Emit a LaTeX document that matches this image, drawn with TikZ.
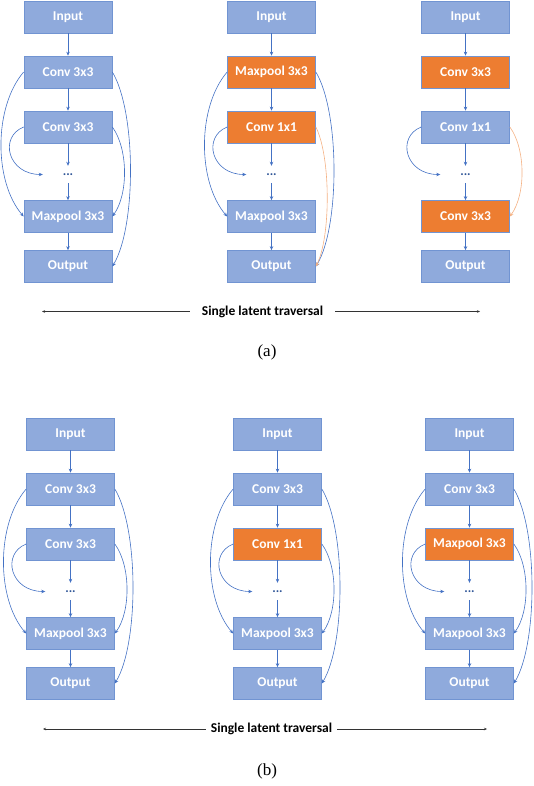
\documentclass[tikz,border=0pt]{standalone}
\usepackage{fontspec}
\setmainfont{Liberation Serif}
\newfontfamily\boxfont{Carlito}
\usetikzlibrary{arrows.meta}
\definecolor{layerblue}{HTML}{8FAADC}
\definecolor{layerorange}{HTML}{ED7D31}
\definecolor{flowblue}{HTML}{4472C4}
\definecolor{skiporange}{HTML}{F4B183}
\definecolor{dotblue}{HTML}{2F5597}

\begin{document}
\begin{tikzpicture}[x=1pt,y=-1pt,>={Stealth[length=4pt,width=3.5pt]}]
    \tikzstyle{layer}=[draw=layerblue!60!flowblue,fill=layerblue,line width=0.7pt,minimum width=88pt,minimum height=32pt,inner sep=0pt,text=white,font=\boxfont\bfseries\fontsize{13.5}{15}\selectfont]
    \tikzstyle{gap}=[minimum width=50pt,minimum height=17pt,inner sep=0pt,text=dotblue,font=\boxfont\bfseries\fontsize{13}{15}\selectfont]
    \tikzstyle{flow}=[->,draw=flowblue,line width=0.6pt]
    \tikzstyle{hot flow}=[flow,draw=skiporange]
    \tikzstyle{sweep}=[->,draw=black!80,line width=0.6pt,>={Stealth[length=3pt,width=2.5pt]}]
    \tikzstyle{sweep label}=[font=\boxfont\bfseries\fontsize{13.5}{15}\selectfont]
    \tikzstyle{caption}=[font=\fontsize{17}{20}\selectfont]

    \useasboundingbox (0,0) rectangle (534,786);

    % Draw the layer nodes of every column (label/fill of the three middle layers)
    \foreach \col/\x/\y/\ta/\fa/\tb/\fb/\tc/\fc in {
            A1/68/0/Conv 3x3/layerblue/Conv 3x3/layerblue/Maxpool 3x3/layerblue,
            A2/271.5/0/Maxpool 3x3/layerorange/Conv 1x1/layerorange/Maxpool 3x3/layerblue,
            A3/465.5/0/Conv 3x3/layerorange/Conv 1x1/layerblue/Conv 3x3/layerorange,
            B1/70.5/417/Conv 3x3/layerblue/Conv 3x3/layerblue/Maxpool 3x3/layerblue,
            B2/277.5/417/Conv 3x3/layerblue/Conv 1x1/layerorange/Maxpool 3x3/layerblue,
            B3/469.5/417/Conv 3x3/layerblue/Maxpool 3x3/layerorange/Maxpool 3x3/layerblue} {
        \node[layer] (\col-in) at (\x,{\y+17}) {Input};
        \node[layer,fill=\fa] (\col-c1) at (\x,{\y+72}) {\ta};
        \node[layer,fill=\fb] (\col-c2) at (\x,{\y+127}) {\tb};
        \node[gap] (\col-dots) at (\x,{\y+174.5}) {...};
        \node[layer,fill=\fc] (\col-mp) at (\x,{\y+216.5}) {\tc};
        \node[layer] (\col-out) at (\x,{\y+266.5}) {Output};
    }

    % Straight connections down every column
    \foreach \col in {A1,A2,A3,B1,B2,B3} {
        \draw[flow] (\col-in) -- (\col-c1);
        \draw[flow] (\col-c1) -- (\col-c2);
        \draw[flow] (\col-c2) -- (\col-dots);
        \draw[flow] (\col-dots) -- (\col-mp);
        \draw[flow] (\col-mp) -- (\col-out);
        \draw[flow] (\col-c2.west) .. controls +(-25,10) and +(-35,0) .. (\col-dots.west);
    }

    % Skip connections
    \foreach \col in {A1,A2,B1,B2,B3} {
        \draw[flow] (\col-c1.west) .. controls +(-30,35) and +(-30,-35) .. (\col-mp.west);
        \draw[flow] (\col-c1.east) .. controls +(24,40) and +(24,-40) .. (\col-out.east);
    }
    \foreach \col in {A1,B1,B2,B3}
        \draw[flow] (\col-c2.east) .. controls +(16,22) and +(16,-22) .. (\col-mp.east);
    \draw[hot flow] (A2-c2.east) .. controls +(15,30) and +(15,-30) .. (A2-out.east);
    \draw[hot flow] (A3-c2.east) .. controls +(16,22) and +(16,-22) .. (A3-mp.east);

    % Traversal arrows and captions
    \foreach \row/\y/\mid/\l/\r/\gap in {a/311.5/262.5/42/480/12, b/729/271.5/43/487/5} {
        \node[sweep label,inner sep=\gap] (\row-sweep) at (\mid,\y) {Single latent traversal};
        \coordinate (\row-from) at (\l,\y);
        \coordinate (\row-to) at (\r,\y);
        \draw[sweep] (\row-sweep.west) -- (\row-from);
        \draw[sweep] (\row-sweep.east) -- (\row-to);
    }
    \node[caption] (a-cap) at (267,352) {(a)};
    \node[caption] (b-cap) at (267,771) {(b)};
\end{tikzpicture}
\end{document}
